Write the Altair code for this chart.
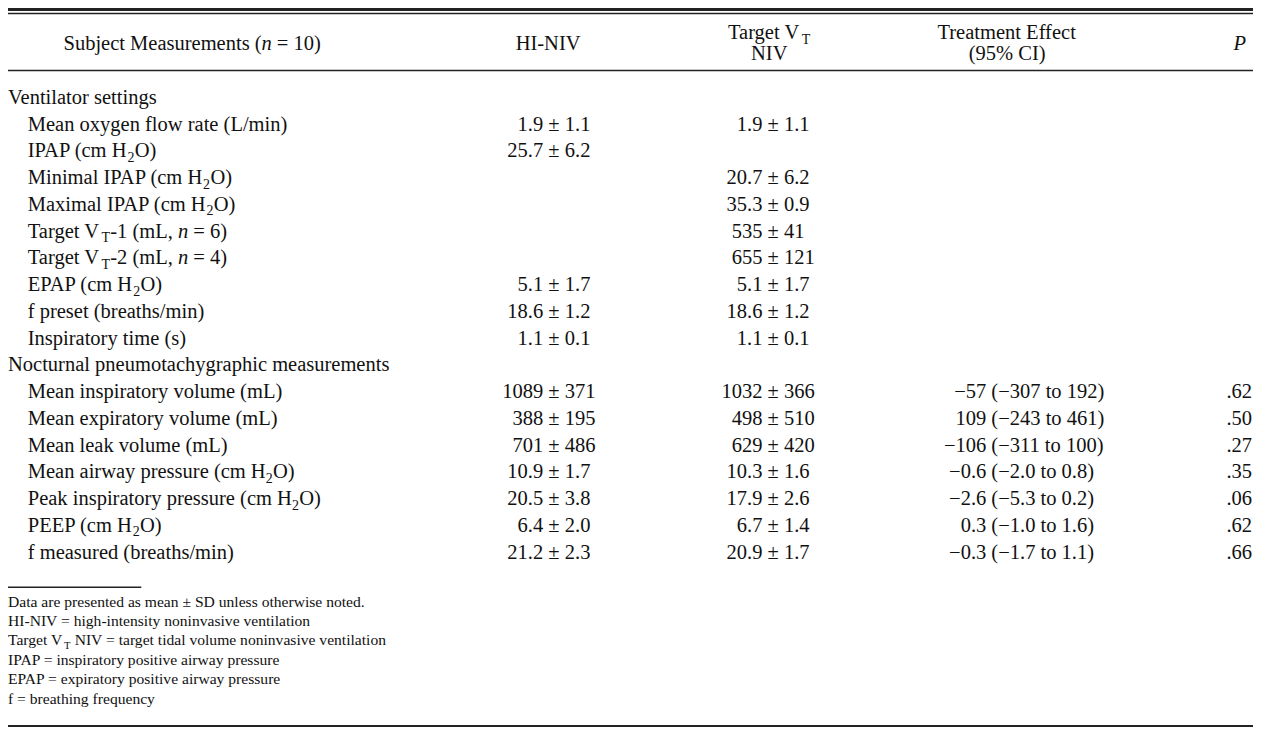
import altair as alt
import pandas as pd

# ------------------------------------------------------------------ data
header_subject = "Subject Measurements (*n* = 10)"
header_hi = "HI-NIV"
header_tv = ["Target V_T", "NIV"]
header_eff = ["Treatment Effect", "(95% CI)"]
header_p = "*P*"

row_labels = [
    "Ventilator settings",
    "Mean oxygen flow rate (L/min)",
    "IPAP (cm H_2O)",
    "Minimal IPAP (cm H_2O)",
    "Maximal IPAP (cm H_2O)",
    "Target V_T-1 (mL, *n* = 6)",
    "Target V_T-2 (mL, *n* = 4)",
    "EPAP (cm H_2O)",
    "f preset (breaths/min)",
    "Inspiratory time (s)",
    "Nocturnal pneumotachygraphic measurements",
    "Mean inspiratory volume (mL)",
    "Mean expiratory volume (mL)",
    "Mean leak volume (mL)",
    "Mean airway pressure (cm H_2O)",
    "Peak inspiratory pressure (cm H_2O)",
    "PEEP (cm H_2O)",
    "f measured (breaths/min)",
]
row_is_section = [1, 0, 0, 0, 0, 0, 0, 0, 0, 0, 1, 0, 0, 0, 0, 0, 0, 0]

hi_mean = ["", "1.9", "25.7", "", "", "", "", "5.1", "18.6", "1.1",
           "", "1089", "388", "701", "10.9", "20.5", "6.4", "21.2"]
hi_sd = ["", "1.1", "6.2", "", "", "", "", "1.7", "1.2", "0.1",
         "", "371", "195", "486", "1.7", "3.8", "2.0", "2.3"]
tv_mean = ["", "1.9", "", "20.7", "35.3", "535", "655", "5.1", "18.6", "1.1",
           "", "1032", "498", "629", "10.3", "17.9", "6.7", "20.9"]
tv_sd = ["", "1.1", "", "6.2", "0.9", "41", "121", "1.7", "1.2", "0.1",
         "", "366", "510", "420", "1.6", "2.6", "1.4", "1.7"]
eff_est = [""] * 11 + ["\u221257", "109", "\u2212106", "\u22120.6", "\u22122.6", "0.3", "\u22120.3"]
eff_ci = [""] * 11 + ["(\u2212307 to 192)", "(\u2212243 to 461)", "(\u2212311 to 100)",
                      "(\u22122.0 to 0.8)", "(\u22125.3 to 0.2)", "(\u22121.0 to 1.6)",
                      "(\u22121.7 to 1.1)"]
p_vals = [""] * 11 + [".62", ".50", ".27", ".35", ".06", ".62", ".66"]

footnotes = [
    "Data are presented as mean \u00b1 SD unless otherwise noted.",
    "HI-NIV = high-intensity noninvasive ventilation",
    "Target V_T NIV = target tidal volume noninvasive ventilation",
    "IPAP = inspiratory positive airway pressure",
    "EPAP = expiratory positive airway pressure",
    "f = breathing frequency",
]

# ------------------------------------------------------------------ layout
W_REF, H_REF = 1261, 736
CHART_W, CHART_H = 1245, 720
FONT = "Liberation Serif"
BODY = 20.5
FOOT = 15.6
SUB_RATIO = 0.68
SUB_DROP = 0.22
SUB_PAD = 0.015         # extra advance around a subscript, in em
WIDTH_FUDGE = 1.012     # rendered text runs a touch wider than the AFM sum
ROW0, ROW_STEP = 98, 27.35
FOOT0, FOOT_STEP = 612, 19.8
X_SECTION, X_ITEM = 0, 20
PM_HI, PM_TV = 553, 775
EFF_PAREN = 996
P_RIGHT = 1260
TEXT_COLOR = "#111111"
RULE_COLOR = "#222222"

# Times / Liberation Serif advance widths (1/1000 em)
TW = {" ": 250, "!": 333, "(": 333, ")": 333, "+": 564, ",": 250, "-": 333, ".": 250,
      "/": 278, ":": 278, ";": 278, "=": 564, "%": 833, "\u00b1": 564, "\u2212": 564,
      "A": 722, "B": 667, "C": 667, "D": 722, "E": 611, "F": 556, "G": 722, "H": 722,
      "I": 333, "J": 389, "K": 722, "L": 611, "M": 889, "N": 722, "O": 722, "P": 556,
      "Q": 722, "R": 667, "S": 556, "T": 611, "U": 722, "V": 722, "W": 944, "X": 722,
      "Y": 722, "Z": 611, "a": 444, "b": 500, "c": 444, "d": 500, "e": 444, "f": 333,
      "g": 500, "h": 500, "i": 278, "j": 278, "k": 500, "l": 278, "m": 778, "n": 500,
      "o": 500, "p": 500, "q": 500, "r": 333, "s": 389, "t": 278, "u": 500, "v": 500,
      "w": 722, "x": 500, "y": 500, "z": 444}
for d in "0123456789":
    TW[d] = 500
TW_ITALIC = {"P": 611, "n": 500}
KERN = {"PA": -92}


def width(text, size, style="r"):
    tab = TW_ITALIC if style == "i" else {}
    w = sum(tab.get(c, TW.get(c, 500)) for c in text)
    w += sum(KERN.get(text[k:k + 2], 0) for k in range(len(text) - 1))
    return w / 1000.0 * size * WIDTH_FUDGE


def parse(s):
    segs, buf, italic, i = [], "", False, 0
    while i < len(s):
        c = s[i]
        if c == "*":
            if buf:
                segs.append((buf, "i" if italic else "r"))
                buf = ""
            italic = not italic
            i += 1
            continue
        if c == "_":
            if buf:
                segs.append((buf, "i" if italic else "r"))
                buf = ""
            segs.append((s[i + 1], "s"))
            i += 2
            continue
        buf += c
        i += 1
    if buf:
        segs.append((buf, "i" if italic else "r"))
    return segs


records = []


def seg_width(txt, st, size):
    if st == "s":
        return width(txt, size * SUB_RATIO) + 2 * SUB_PAD * size
    return width(txt, size, st)


def rich(s, x, y, size, align="left"):
    segs = parse(s)
    total = sum(seg_width(t, st, size) for t, st in segs)
    if align == "center":
        x = x - total / 2
    elif align == "right":
        x = x - total
    for t, st in segs:
        w = seg_width(t, st, size)
        lead = len(t) - len(t.lstrip(" "))
        shown = t.strip(" ")
        if shown:
            if st == "s":
                records.append(dict(x=x + SUB_PAD * size, y=y + SUB_DROP * size,
                                    text=shown, size=size * SUB_RATIO,
                                    style="r", align="left"))
            else:
                records.append(dict(x=x + width(" " * lead, size), y=y, text=shown,
                                    size=size, style=st, align="left"))
        x += w


def plain(s, x, y, size, align, style="r"):
    if s:
        records.append(dict(x=x, y=y, text=s, size=size, style=style, align=align))


# header
rich(header_subject, 186.5, 43, BODY, "center")
rich(header_hi, 547, 43, BODY, "center")
rich(header_tv[0], 771, 32, BODY, "center")
rich(header_tv[1], 771, 53, BODY, "center")
rich(header_eff[0], 1012, 32, BODY, "center")
rich(header_eff[1], 1012, 53, BODY, "center")
rich(header_p, 1254, 43, BODY, "right")

# body
gap = (564 / 2 + 250) / 1000.0 * BODY
for i, lab in enumerate(row_labels):
    yb = ROW0 + i * ROW_STEP
    rich(lab, X_SECTION if row_is_section[i] else X_ITEM, yb, BODY)
    for pm, mean, sd in ((PM_HI, hi_mean[i], hi_sd[i]), (PM_TV, tv_mean[i], tv_sd[i])):
        if mean:
            plain(mean, pm - gap, yb, BODY, "right")
            plain("\u00b1", pm, yb, BODY, "center")
            plain(sd, pm + gap, yb, BODY, "left")
    plain(eff_est[i], EFF_PAREN - 0.25 * BODY, yb, BODY, "right")
    plain(eff_ci[i], EFF_PAREN, yb, BODY, "left")
    plain(p_vals[i], P_RIGHT, yb, BODY, "right")

# footnotes
for k, fn in enumerate(footnotes):
    rich(fn, 0, FOOT0 + k * FOOT_STEP, FOOT)

texts = pd.DataFrame(records)

rules = pd.DataFrame([
    dict(x0=0, x1=W_REF, y=1.5, w=3.0),
    dict(x0=0, x1=W_REF, y=5.6, w=1.5),
    dict(x0=0, x1=W_REF, y=64, w=1.5),
    dict(x0=0, x1=135, y=592, w=1.5),
    dict(x0=0, x1=W_REF, y=734, w=2.0),
])

xs = alt.Scale(domain=[0, W_REF], range=[0, CHART_W])
ys = alt.Scale(domain=[0, H_REF], range=[0, CHART_H])

rule_layer = alt.Chart(rules).mark_rule(color=RULE_COLOR).encode(
    x=alt.X("x0:Q", scale=xs, axis=None),
    x2="x1:Q",
    y=alt.Y("y:Q", scale=ys, axis=None),
    size=alt.Size("w:Q", scale=None, legend=None),
)

layers = [rule_layer]
for (style, align), grp in texts.groupby(["style", "align"]):
    mk = dict(align=align, baseline="alphabetic", font=FONT, color=TEXT_COLOR)
    if style == "i":
        mk["fontStyle"] = "italic"
    layers.append(
        alt.Chart(grp.reset_index(drop=True)).mark_text(**mk).encode(
            x=alt.X("x:Q", scale=xs, axis=None),
            y=alt.Y("y:Q", scale=ys, axis=None),
            text="text:N",
            size=alt.Size("size:Q", scale=None, legend=None),
        )
    )

chart = alt.layer(*layers).properties(
    width=CHART_W, height=CHART_H, padding=0, autosize="none", background="white"
).configure_view(stroke=None)

chart.save("out.html", embed_options={"renderer": "svg", "actions": False})
